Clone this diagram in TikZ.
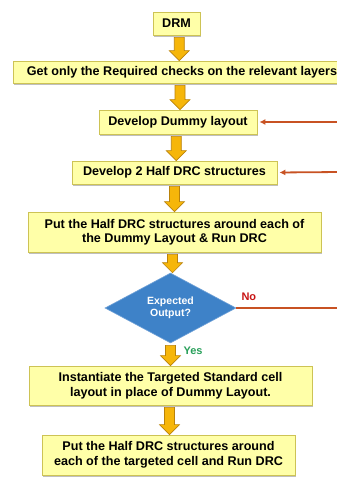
\documentclass[tikz,border=0pt]{standalone}
\usepackage{fontspec}
\setmainfont{Liberation Sans}
\usetikzlibrary{shapes.geometric,arrows.meta,calc,shadows}
\definecolor{boxfill}{RGB}{255,255,168}
\definecolor{boxline}{RGB}{205,195,85}
\definecolor{arrfill}{RGB}{246,182,10}
\definecolor{arrline}{RGB}{185,130,10}
\definecolor{diafill}{RGB}{62,130,200}
\definecolor{dialine}{RGB}{110,160,215}
\definecolor{redline}{RGB}{200,82,35}
\definecolor{nored}{RGB}{200,20,20}
\definecolor{yesgreen}{RGB}{40,160,90}
\tikzset{
  box/.style={draw=boxline, fill=boxfill, line width=0.8pt, inner sep=0pt,
    align=center, font=\bfseries\fontsize{12.6}{14.5}\selectfont,
    drop shadow={shadow xshift=1.2pt, shadow yshift=-1.5pt, opacity=0.25, fill=black}},
  dia/.style={diamond, draw=dialine, fill=diafill, line width=0.6pt, inner sep=0pt,
    aspect=1.87, text=white, align=center, font=\bfseries\fontsize{10.5}{12}\selectfont},
  barr/.style={draw=arrline, fill=arrfill, line width=0.6pt, line join=miter},
  redarr/.style={draw=redline, line width=1.8pt, -{Latex[length=6pt,width=6pt]}, shorten >=2pt},
  redln/.style={draw=redline, line width=1.8pt},
}
\newcommand\barrow[2]{%
  \path[barr] let \p1=(#1.south), \p2=(#2.north), \n1={(\x1+\x2)/2} in
    ({\n1-5pt},{\y1-2pt}) -- ({\n1+5pt},{\y1-2pt}) -- ({\n1+5pt},{\y2+10pt})
    -- ({\n1+10pt},{\y2+10pt}) -- (\n1,\y2) -- ({\n1-10pt},{\y2+10pt})
    -- ({\n1-5pt},{\y2+10pt}) -- cycle;}
\begin{document}
\begin{tikzpicture}[x=1pt,y=-1pt]
\useasboundingbox[fill=white] (0,0) rectangle (337,477);
\clip (0,0) rectangle (337,477);
\node[box, minimum width=47pt, minimum height=23pt] (drm) at (176.5,23.5) {DRM};
\node[box, minimum width=338pt, minimum height=22pt] (get) at (182,72) {Get only the Required checks on the relevant layers};
\node[box, minimum width=158pt, minimum height=24pt] (dummy) at (178,122) {Develop Dummy layout};
\node[box, minimum width=205pt, minimum height=23pt] (half) at (174.5,172.5) {Develop 2 Half DRC structures};
\node[box, minimum width=293pt, minimum height=40pt] (put) at (174.5,232) {Put the Half DRC structures around each of\\the Dummy Layout \& Run DRC};
\node[dia, minimum width=131pt, minimum height=70pt] (exp) at (170.5,308) {Expected\\Output?};
\node[box, minimum width=283pt, minimum height=39pt] (inst) at (170.5,385.5) {Instantiate the Targeted Standard cell\\layout in place of Dummy Layout.};
\node[box, minimum width=253pt, minimum height=40pt] (put2) at (168.5,455) {Put the Half DRC structures around\\each of the targeted cell and Run DRC};
\barrow{drm}{get}
\barrow{get}{dummy}
\barrow{dummy}{half}
\barrow{half}{put}
\barrow{put}{exp}
\barrow{exp}{inst}
\barrow{inst}{put2}
\coordinate (r1) at (340,122);
\coordinate (r2) at (340,172);
\coordinate (r3) at (340,308);
\draw[redarr] (r1) -- (dummy.east);
\draw[redarr] (r2) -- (half.east);
\draw[redln] (exp.east) -- (r3);
\node[text=nored, font=\bfseries\fontsize{11}{13}\selectfont, anchor=west] (no) at (238,297) {No};
\node[text=yesgreen, font=\bfseries\fontsize{11}{13}\selectfont, anchor=west] (yes) at (180,351) {Yes};
\end{tikzpicture}
\end{document}
